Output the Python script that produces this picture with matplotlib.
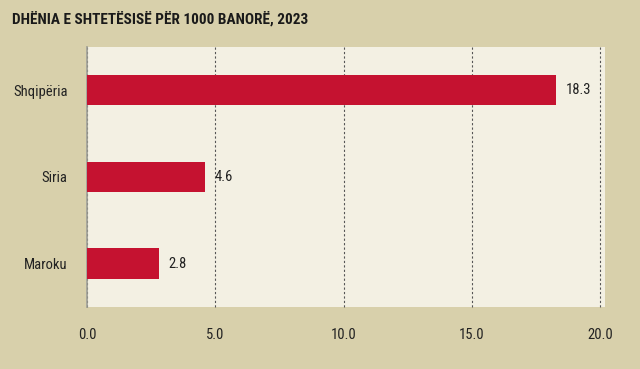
import matplotlib
matplotlib.use("Agg")
import matplotlib.pyplot as plt
from matplotlib import font_manager

categories = ["Shqipëria", "Siria", "Maroku"]
values = [18.3, 4.6, 2.8]
xticks = [0.0, 5.0, 10.0, 15.0, 20.0]
title = "DHËNIA E SHTETËSISË PËR 1000 BANORË, 2023"

names = {f.name for f in font_manager.fontManager.ttflist}
fam = [n for n in ["Roboto Condensed", "Liberation Sans Narrow", "DejaVu Sans Condensed", "DejaVu Sans"] if n in names]
plt.rcParams['font.family'] = fam

W, H = 640, 369
fig = plt.figure(figsize=(W/100, H/100), dpi=100)
fig.patch.set_facecolor("#d8d0ab")

# panel
bg = fig.add_axes([86/W, 1-307/H, (605-86)/W, (307-47)/H])
bg.set_facecolor("#f3f0e3")
bg.set_xticks([]); bg.set_yticks([])
for s in bg.spines.values():
    s.set_visible(False)
bg.set_zorder(0)

ax = fig.add_axes([87/W, 1-307/H, (600-87)/W, (307-47)/H])
ax.set_zorder(1)
ax.patch.set_visible(False)
y = list(range(len(categories)))
ax.barh(y, values, height=0.35, color="#c51230", zorder=3)
ax.set_ylim(len(categories)-0.5, -0.5)
ax.set_xlim(0, 20)
ax.set_yticks(y)
ax.set_yticklabels(categories, fontsize=10.5, color="#222222")
ax.set_xticks(xticks)
ax.set_xticklabels([f"{t:.1f}" for t in xticks], fontsize=10.5, color="#222222")
ax.tick_params(axis="both", length=0)
ax.tick_params(axis="x", pad=15)
ax.tick_params(axis="y", pad=14)
for s in ["top", "right", "bottom"]:
    ax.spines[s].set_visible(False)
ax.spines["left"].set_color("#9a9a90")
ax.spines["left"].set_linewidth(1.2)
ax.xaxis.grid(True, linestyle=(0, (2, 2)), color="#555555", linewidth=0.8, zorder=1)
for gl in ax.get_xgridlines():
    gl.set_clip_on(False)
ax.set_axisbelow(True)

for yi, v in zip(y, values):
    ax.annotate(f"{v:.1f}", (v, yi), xytext=(7, 0), textcoords="offset points",
                va="center", ha="left", fontsize=10.5, color="#222222")

fig.text(12/W, 1-19/H, title, fontsize=11, fontweight="heavy", ha="left", va="center", color="#1a1a1a")

fig.savefig("out.png", dpi=100, facecolor=fig.get_facecolor())
